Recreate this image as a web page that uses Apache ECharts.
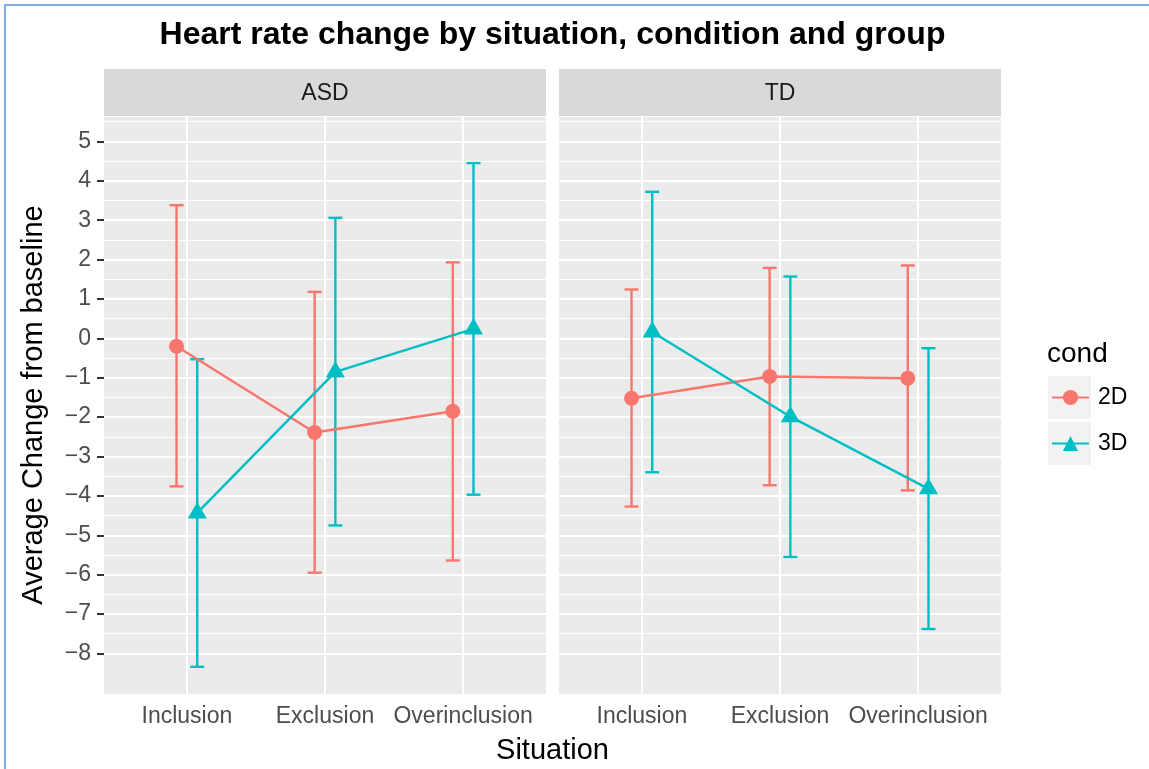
<!DOCTYPE html>
<html>
<head>
<meta charset="utf-8">
<script src="https://cdn.jsdelivr.net/npm/echarts@6/dist/echarts.min.js"></script>
<style>
html,body{margin:0;padding:0;background:#fff;}
#chart{width:1149px;height:769px;}
</style>
</head>
<body>
<div id="chart"></div>
<script>
// ---- data ----
var situations = ['Inclusion', 'Exclusion', 'Overinclusion'];
var groups = ['ASD', 'TD'];
var conds = ['2D', '3D'];
var yTicks = [-8, -7, -6, -5, -4, -3, -2, -1, 0, 1, 2, 3, 4, 5];

var asd2dMean = [-0.20, -2.39, -1.85];
var asd2dLow  = [-3.76, -5.95, -5.64];
var asd2dHigh = [3.38, 1.18, 1.93];
var asd3dMean = [-4.43, -0.85, 0.24];
var asd3dLow  = [-8.34, -4.75, -3.97];
var asd3dHigh = [-0.53, 3.06, 4.45];
var td2dMean  = [-1.52, -0.97, -1.01];
var td2dLow   = [-4.27, -3.73, -3.86];
var td2dHigh  = [1.24, 1.79, 1.85];
var td3dMean  = [0.16, -1.99, -3.82];
var td3dLow   = [-3.40, -5.55, -7.38];
var td3dHigh  = [3.72, 1.57, -0.25];

// ---- styling ----
var FONT = "'Liberation Sans', Arial, Helvetica, sans-serif";
var colors = {'2D': '#F8766D', '3D': '#00BFC4'};
var dodge = {'2D': -0.075, '3D': 0.075};
var panels = [
  {group: groups[0], left: 104, data: {'2D': [asd2dMean, asd2dLow, asd2dHigh], '3D': [asd3dMean, asd3dLow, asd3dHigh]}},
  {group: groups[1], left: 559, data: {'2D': [td2dMean, td2dLow, td2dHigh], '3D': [td3dMean, td3dLow, td3dHigh]}}
];
var PANEL_TOP = 117, PANEL_H = 577, PANEL_W = 442;
var Y_MIN = -9.03, Y_MAX = 5.62;
var LINE_W = 2.5, BAR_W = 2.4;

var grids = [], xAxes = [], yAxes = [], series = [], graphics = [];

var gridLinesData = [];
yTicks.forEach(function (v) { gridLinesData.push({yAxis: v, lineStyle: {width: 2}}); });
yTicks.forEach(function (v) { gridLinesData.push({yAxis: v + 0.5, lineStyle: {width: 1.1}}); });
situations.forEach(function (s, i) { gridLinesData.push({xAxis: i + 1, lineStyle: {width: 2}}); });

panels.forEach(function (p, gi) {
  grids.push({left: p.left, top: PANEL_TOP, width: PANEL_W, height: PANEL_H, show: true,
    backgroundColor: '#EBEBEB', borderWidth: 0, outerBoundsMode: 'none'});
  xAxes.push({type: 'value', gridIndex: gi, min: 0.4, max: 3.6,
    axisLine: {show: false}, splitLine: {show: false},
    axisTick: {show: true, customValues: [1, 2, 3], length: 7, lineStyle: {color: '#333333', width: 2}},
    axisLabel: {show: true, customValues: [1, 2, 3], margin: 11, fontSize: 23, color: '#4D4D4D', fontFamily: FONT,
      formatter: function (v) { return situations[Math.round(v) - 1]; }}
  });
  yAxes.push({type: 'value', gridIndex: gi, min: Y_MIN, max: Y_MAX,
    axisLine: {show: false}, splitLine: {show: false},
    axisTick: {show: gi === 0, customValues: yTicks, length: 7, lineStyle: {color: '#333333', width: 2}},
    axisLabel: {show: gi === 0, customValues: yTicks, margin: 13, fontSize: 23, color: '#4D4D4D', fontFamily: FONT,
      formatter: function (v) { return String(Math.round(v)).replace('-', '\u2212'); }}
  });
  // panel grid lines
  series.push({type: 'line', xAxisIndex: gi, yAxisIndex: gi, data: [], silent: true,
    markLine: {silent: true, symbol: 'none', animation: false, z: 1, label: {show: false},
      lineStyle: {color: '#FFFFFF', type: 'solid'}, emphasis: {disabled: true},
      data: gridLinesData}
  });
  conds.forEach(function (c) {
    var arr = p.data[c];
    var ebData = situations.map(function (s, i) { return [i + 1 + dodge[c], arr[1][i], arr[2][i]]; });
    series.push({type: 'custom', xAxisIndex: gi, yAxisIndex: gi, z: 8, silent: true,
      data: ebData,
      renderItem: (function (col) {
        return function (params, api) {
          var x = api.value(0);
          var pl = api.coord([x, api.value(1)]);
          var ph = api.coord([x, api.value(2)]);
          var hw = 7;
          var st = {stroke: col, lineWidth: BAR_W, fill: null};
          return {type: 'group', children: [
            {type: 'line', shape: {x1: pl[0], y1: pl[1], x2: ph[0], y2: ph[1]}, style: st},
            {type: 'line', shape: {x1: pl[0] - hw, y1: pl[1], x2: pl[0] + hw, y2: pl[1]}, style: st},
            {type: 'line', shape: {x1: ph[0] - hw, y1: ph[1], x2: ph[0] + hw, y2: ph[1]}, style: st}
          ]};
        };
      })(colors[c])
    });
  });
  conds.forEach(function (c) {
    var arr = p.data[c];
    series.push({type: 'line', name: c, xAxisIndex: gi, yAxisIndex: gi, z: 10, silent: true,
      data: situations.map(function (s, i) { return [i + 1 + dodge[c], arr[0][i]]; }),
      symbol: c === '2D' ? 'circle' : 'triangle',
      symbolSize: c === '2D' ? 15 : [19, 16.5],
      symbolOffset: c === '2D' ? [0, 0] : [0, -2.7],
      showSymbol: false,
      lineStyle: {color: colors[c], width: LINE_W}, itemStyle: {color: colors[c]},
      animation: false
    });
  });
  conds.forEach(function (c) {
    var arr = p.data[c];
    series.push({type: 'scatter', xAxisIndex: gi, yAxisIndex: gi, z: 12, silent: true,
      data: situations.map(function (s, i) { return [i + 1 + dodge[c], arr[0][i]]; }),
      symbol: c === '2D' ? 'circle' : 'triangle',
      symbolSize: c === '2D' ? 15 : [19, 16.5],
      symbolOffset: c === '2D' ? [0, 0] : [0, -2.7],
      itemStyle: {color: colors[c], opacity: 1},
      animation: false
    });
  });
  // strip
  graphics.push({type: 'rect', shape: {x: p.left, y: 69, width: PANEL_W, height: 47}, style: {fill: '#D9D9D9'}, z: 0});
  graphics.push({type: 'text', x: p.left + PANEL_W / 2, y: 94,
    style: {text: p.group, fontSize: 23, fill: '#1A1A1A', fontFamily: FONT, align: 'center', verticalAlign: 'middle'}});
});

// titles
graphics.push({type: 'text', x: 552.5, y: 35,
  style: {text: 'Heart rate change by situation, condition and group', fontSize: 32, fontWeight: 'bold',
    fill: '#000', fontFamily: FONT, align: 'center', verticalAlign: 'middle'}});
graphics.push({type: 'text', x: 552.5, y: 751,
  style: {text: 'Situation', fontSize: 29, fill: '#000', fontFamily: FONT, align: 'center', verticalAlign: 'middle'}});
graphics.push({type: 'text', x: 34, y: 405, rotation: Math.PI / 2,
  style: {text: 'Average Change from baseline', fontSize: 29, fill: '#000', fontFamily: FONT, align: 'center', verticalAlign: 'middle'}});
// legend title & keys
graphics.push({type: 'text', x: 1047, y: 354,
  style: {text: 'cond', fontSize: 28, fill: '#000', fontFamily: FONT, align: 'left', verticalAlign: 'middle'}});
graphics.push({type: 'rect', shape: {x: 1048, y: 376, width: 43, height: 43}, style: {fill: '#F2F2F2'}, z: 0});
graphics.push({type: 'rect', shape: {x: 1048, y: 422, width: 43, height: 43}, style: {fill: '#F2F2F2'}, z: 0});
// frame
graphics.push({type: 'rect', shape: {x: 5, y: 5, width: 1160, height: 800}, style: {fill: null, stroke: '#7FAEE8', lineWidth: 2}, z: 100});

var chart = echarts.init(document.getElementById('chart'), null, {renderer: 'canvas'});
chart.setOption({
  animation: false,
  backgroundColor: '#FFFFFF',
  grid: grids,
  xAxis: xAxes,
  yAxis: yAxes,
  legend: {orient: 'vertical', left: 1046, top: 381, itemWidth: 37, itemHeight: 19, itemGap: 23,
    data: conds, selectedMode: false,
    textStyle: {fontSize: 23, color: '#000', fontFamily: FONT, padding: [0, 0, 0, 4]}},
  graphic: graphics,
  series: series
});
</script>
</body>
</html>
